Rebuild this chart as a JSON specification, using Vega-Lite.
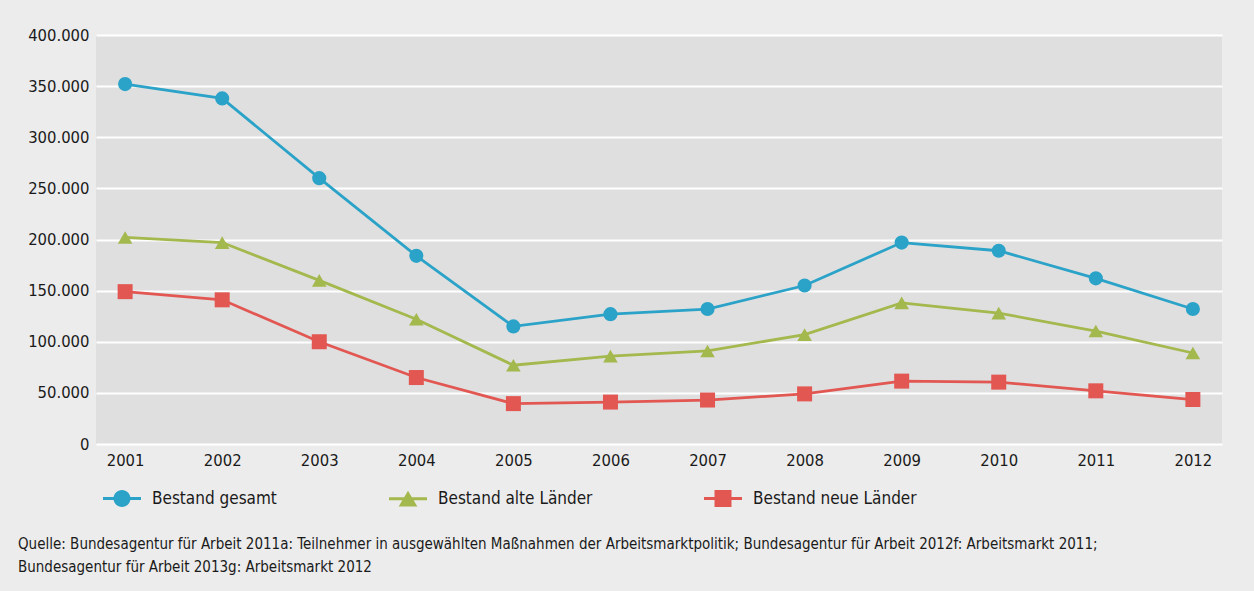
{
  "$schema": "https://vega.github.io/schema/vega-lite/v6.json",
  "width": 1126,
  "height": 409,
  "autosize": {"type": "none"},
  "padding": {"left": 96, "top": 35, "right": 32, "bottom": 147},
  "background": "#ececec",
  "config": {
    "view": {"fill": "#dfdfdf", "stroke": null},
    "font": "DejaVu Sans Condensed",
    "axis": {"labelFont": "DejaVu Sans Condensed", "labelColor": "#1a1a1a"},
    "legend": {"labelFont": "DejaVu Sans Condensed"}
  },
  "title": {
    "text": ["Quelle: Bundesagentur für Arbeit 2011a: Teilnehmer in ausgewählten Maßnahmen der Arbeitsmarktpolitik; Bundesagentur für Arbeit 2012f: Arbeitsmarkt 2011;", "Bundesagentur für Arbeit 2013g: Arbeitsmarkt 2012"],
    "orient": "bottom",
    "anchor": "start",
    "frame": "group",
    "dx": -78,
    "offset": 30,
    "font": "DejaVu Sans Condensed",
    "fontSize": 15,
    "fontWeight": "normal",
    "color": "#1a1a1a",
    "lineHeight": 23
  },
  "data": {"values": [
    {"year": "2001", "series": "Bestand gesamt", "value": 352000},
    {"year": "2002", "series": "Bestand gesamt", "value": 338000},
    {"year": "2003", "series": "Bestand gesamt", "value": 260000},
    {"year": "2004", "series": "Bestand gesamt", "value": 184000},
    {"year": "2005", "series": "Bestand gesamt", "value": 115000},
    {"year": "2006", "series": "Bestand gesamt", "value": 127000},
    {"year": "2007", "series": "Bestand gesamt", "value": 132000},
    {"year": "2008", "series": "Bestand gesamt", "value": 155000},
    {"year": "2009", "series": "Bestand gesamt", "value": 197000},
    {"year": "2010", "series": "Bestand gesamt", "value": 189000},
    {"year": "2011", "series": "Bestand gesamt", "value": 162000},
    {"year": "2012", "series": "Bestand gesamt", "value": 132000},
    {"year": "2001", "series": "Bestand alte Länder", "value": 202000},
    {"year": "2002", "series": "Bestand alte Länder", "value": 197000},
    {"year": "2003", "series": "Bestand alte Länder", "value": 160000},
    {"year": "2004", "series": "Bestand alte Länder", "value": 122000},
    {"year": "2005", "series": "Bestand alte Länder", "value": 77000},
    {"year": "2006", "series": "Bestand alte Länder", "value": 86000},
    {"year": "2007", "series": "Bestand alte Länder", "value": 91000},
    {"year": "2008", "series": "Bestand alte Länder", "value": 107000},
    {"year": "2009", "series": "Bestand alte Länder", "value": 138000},
    {"year": "2010", "series": "Bestand alte Länder", "value": 128000},
    {"year": "2011", "series": "Bestand alte Länder", "value": 110500},
    {"year": "2012", "series": "Bestand alte Länder", "value": 89000},
    {"year": "2001", "series": "Bestand neue Länder", "value": 149000},
    {"year": "2002", "series": "Bestand neue Länder", "value": 141000},
    {"year": "2003", "series": "Bestand neue Länder", "value": 100000},
    {"year": "2004", "series": "Bestand neue Länder", "value": 65000},
    {"year": "2005", "series": "Bestand neue Länder", "value": 39500},
    {"year": "2006", "series": "Bestand neue Länder", "value": 41000},
    {"year": "2007", "series": "Bestand neue Länder", "value": 43000},
    {"year": "2008", "series": "Bestand neue Länder", "value": 49000},
    {"year": "2009", "series": "Bestand neue Länder", "value": 61500},
    {"year": "2010", "series": "Bestand neue Länder", "value": 60500},
    {"year": "2011", "series": "Bestand neue Länder", "value": 52000},
    {"year": "2012", "series": "Bestand neue Länder", "value": 43500}
  ]},
  "encoding": {
    "x": {"field": "year", "type": "ordinal", "scale": {"type": "point", "padding": 0.3},
      "axis": {"title": null, "labelAngle": 0, "domain": false, "ticks": false, "labelPadding": 8, "labelFontSize": 16.5, "grid": false}},
    "y": {"field": "value", "type": "quantitative", "scale": {"domain": [0, 400000], "nice": false},
      "axis": {"title": null, "domain": false, "ticks": false, "labelPadding": 7, "labelFontSize": 16.5,
        "values": [0, 50000, 100000, 150000, 200000, 250000, 300000, 350000, 400000],
        "labelExpr": "replace(format(datum.value, ','), regexp(',', 'g'), '.')",
        "grid": true, "gridColor": "#ffffff", "gridWidth": 2}}
  },
  "layer": [
    {
      "mark": {"type": "line", "strokeWidth": 2.8},
      "encoding": {
        "color": {"field": "series", "type": "nominal", "legend": null,
          "scale": {"domain": ["Bestand gesamt", "Bestand alte Länder", "Bestand neue Länder"], "range": ["#2ba3c8", "#a3b84d", "#e25752"]}}
      }
    },
    {
      "mark": {"type": "point", "filled": true, "opacity": 1},
      "encoding": {
        "color": {"field": "series", "type": "nominal", "legend": null,
          "scale": {"domain": ["Bestand gesamt", "Bestand alte Länder", "Bestand neue Länder"], "range": ["#2ba3c8", "#a3b84d", "#e25752"]}},
        "shape": {"field": "series", "type": "nominal", "legend": null,
          "scale": {"domain": ["Bestand gesamt", "Bestand alte Länder", "Bestand neue Länder"], "range": ["circle", "triangle-up", "square"]}},
        "size": {"field": "series", "type": "nominal", "legend": null,
          "scale": {"domain": ["Bestand gesamt", "Bestand alte Länder", "Bestand neue Länder"], "range": [200, 225, 234]}}
      }
    },
    {
      "mark": {"type": "point", "filled": true, "opacity": 0},
      "encoding": {
        "color": {"field": "series", "type": "nominal",
          "scale": {"domain": ["Bestand gesamt", "Bestand alte Länder", "Bestand neue Länder"], "range": ["#2ba3c8", "#a3b84d", "#e25752"]},
          "legend": {"title": null, "orient": "none", "direction": "horizontal", "legendX": 17.5, "legendY": 455,
            "symbolSize": 289, "symbolOpacity": 1, "symbolStrokeWidth": 0, "labelOffset": 21.5, "labelFontSize": 17,
            "labelColor": "#1a1a1a", "columnPadding": 111, "labelLimit": 400}},
        "shape": {"field": "series", "type": "nominal",
          "scale": {"domain": ["Bestand gesamt", "Bestand alte Länder", "Bestand neue Länder"],
            "range": ["M-2.235,-0.176H2.235V0.176H-2.235Z M1,0A1,1,0,1,1,-1,0A1,1,0,1,1,1,0Z",
                      "M-2.235,-0.176H2.235V0.176H-2.235Z M0,-0.95L1.1,0.9L-1.1,0.9Z",
                      "M-2.235,-0.176H2.235V0.176H-2.235Z M-1,-1H1V1H-1Z"]},
          "legend": {"title": null, "orient": "none", "direction": "horizontal", "legendX": 17.5, "legendY": 455,
            "symbolSize": 289, "symbolOpacity": 1, "symbolStrokeWidth": 0, "labelOffset": 21.5, "labelFontSize": 17,
            "labelColor": "#1a1a1a", "columnPadding": 111, "labelLimit": 400}}
      }
    }
  ],
  "resolve": {"scale": {"color": "independent", "shape": "independent"}}
}
